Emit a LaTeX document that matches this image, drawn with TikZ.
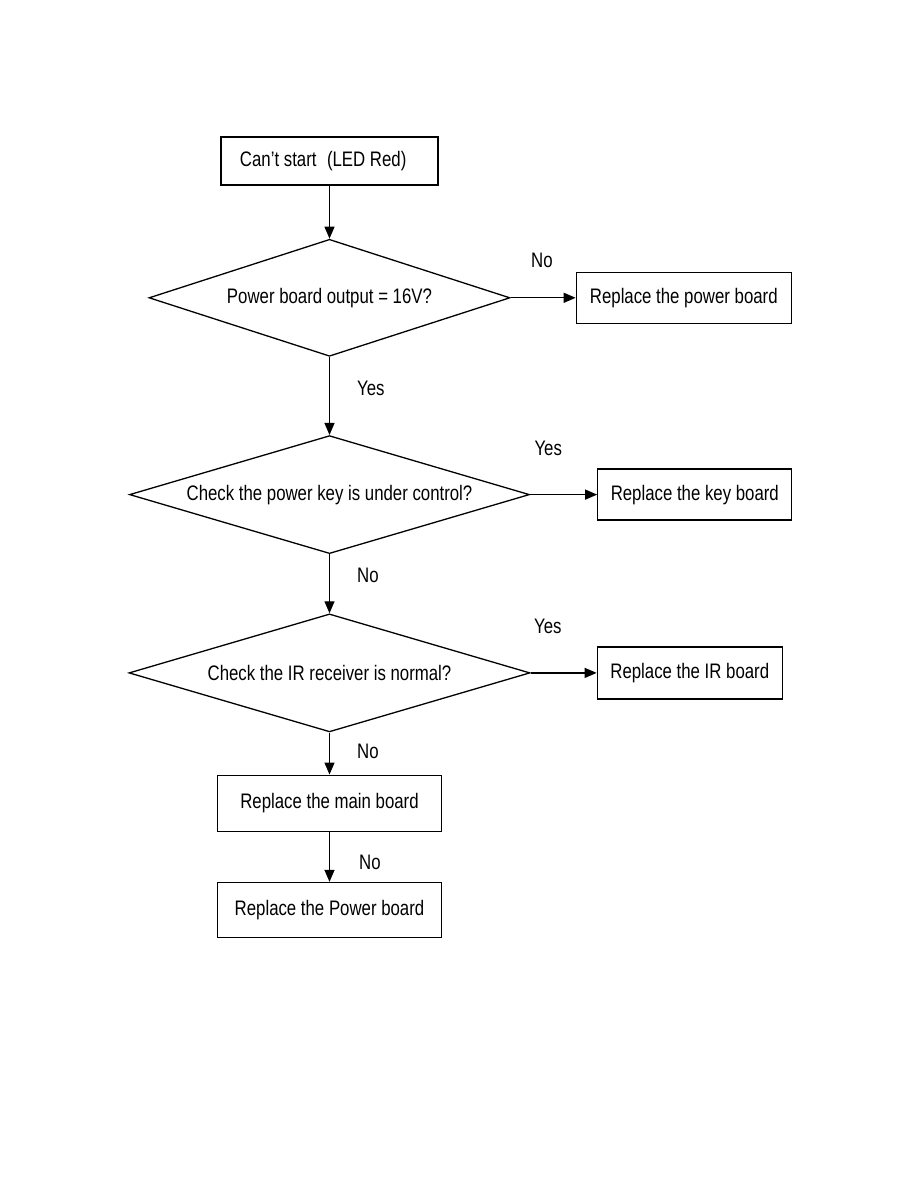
\documentclass[tikz,border=0pt]{standalone}
\usepackage{fontspec}
\setmainfont{Liberation Sans}[FakeStretch=0.8]
\usetikzlibrary{shapes,arrows.meta,positioning}
\tikzset{
  stepbox/.style={rectangle, draw=black, line width=1.3pt, fill=white,
                  align=center, inner sep=0pt, font=\fontsize{21}{25}\selectfont},
  decision/.style={diamond, draw=black, line width=1.3pt, aspect=3.4,
                   align=center, inner sep=0pt, font=\fontsize{21}{25}\selectfont},
  answer/.style={inner sep=0pt, font=\fontsize{21}{25}\selectfont},
  arrow/.style={-{Triangle[length=12pt, width=10pt]}, line width=1.3pt},
}

\begin{document}
\begin{tikzpicture}[x=1pt, y=-1pt]
\useasboundingbox (0,0) rectangle (918,1188);

\node[stepbox, minimum width=217pt, minimum height=48pt] (start) at (329.5,161) {Can't start\hspace{0.5em}(LED Red)\hspace{0.6em}};
\node[decision, below=53pt of start, minimum width=361pt, minimum height=117pt] (power) {Power board output = 16V?};
\node[stepbox, right=65pt of power, minimum width=215pt, minimum height=51pt] (pwrboard) {Replace the power board};

\node[decision, below=78pt of power, minimum width=400pt, minimum height=118pt] (key) {Check the power key is under control?};
\node[stepbox, right=67pt of key, minimum width=194pt, minimum height=51pt] (keyboard) {Replace the key board};

\node[decision, below=59pt of key, minimum width=401pt, minimum height=118pt] (ir) {Check the IR receiver is normal?};
\node[stepbox, right=66pt of ir, minimum width=185pt, minimum height=52pt] (irboard) {Replace the IR board};

\node[stepbox, below=42pt of ir, minimum width=224pt, minimum height=56pt] (mainboard) {Replace the main board};
\node[stepbox, below=50pt of mainboard, minimum width=224pt, minimum height=55pt] (powerboard) {Replace the Power board};

\draw[arrow] (start) -- (power);
\draw[arrow] (power) -- node[answer, pos=0.48, above=29.5pt] (no1) {No} (pwrboard);
\draw[arrow] (power) -- node[answer, pos=0.4, right=27pt] (yes1) {Yes} (key);
\draw[arrow] (key) -- node[answer, pos=0.27, above=38.5pt] (yes2) {Yes} (keyboard);
\draw[arrow] (key) -- node[answer, pos=0.36, right=27pt] (no2) {No} (ir);
\draw[arrow] (ir) -- node[answer, pos=0.26, above=38.5pt] (yes3) {Yes} (irboard);
\draw[arrow] (ir) -- node[answer, pos=0.45, right=27pt] (no3) {No} (mainboard);
\draw[arrow] (mainboard) -- node[answer, pos=0.62, right=29pt] (no4) {No} (powerboard);
\end{tikzpicture}
\end{document}
